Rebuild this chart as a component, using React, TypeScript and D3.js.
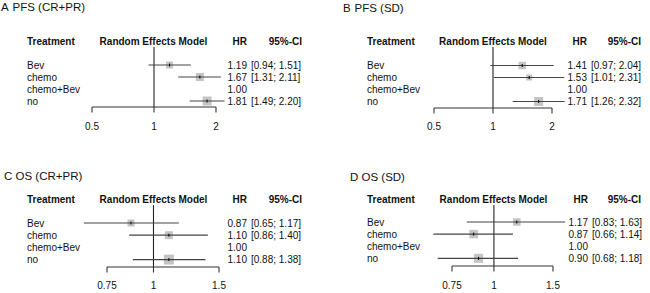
import React from "react";
import * as d3 from "d3";

// ---------- data ----------
const treatments = ["Bev", "chemo", "chemo+Bev", "no"];

const pfsCrHR = [1.19, 1.67, 1.0, 1.81];
const pfsCrLo = [0.94, 1.31, null, 1.49];
const pfsCrHi = [1.51, 2.11, null, 2.2];
const pfsCrWeight = [7, 8, 0, 9];

const pfsSdHR = [1.41, 1.53, 1.0, 1.71];
const pfsSdLo = [0.97, 1.01, null, 1.26];
const pfsSdHi = [2.04, 2.31, null, 2.32];
const pfsSdWeight = [7.5, 6, 0, 9];

const osCrHR = [0.87, 1.1, 1.0, 1.1];
const osCrLo = [0.65, 0.86, null, 0.88];
const osCrHi = [1.17, 1.4, null, 1.38];
const osCrWeight = [7, 8, 0, 10];

const osSdHR = [1.17, 0.87, 1.0, 0.9];
const osSdLo = [0.83, 0.66, null, 0.68];
const osSdHi = [1.63, 1.14, null, 1.18];
const osSdWeight = [7.5, 8.5, 0, 9];

const pfsTicks = [0.5, 1, 2];
const osTicks = [0.75, 1, 1.5];
const tickLabels = (t: number[]) => t.map((v) => String(v));

const headers = ["Treatment", "Random Effects Model", "HR", "95%-CI"];

// ---------- layout (positions only) ----------
type Layout = {
  letterX: number; titleY: number; treatX: number; headerY: number;
  row0: number; rowStep: number; axisY: number; axisL: number; axisR: number;
  reCenter: number; hrRight: number; ciLeft: number; ciHeadRight: number; tickLabelY: number;
};

const layoutA: Layout = { letterX: 1, titleY: 11, treatX: 27, headerY: 45, row0: 65, rowStep: 12, axisY: 107, axisL: 92, axisR: 216, reCenter: 153.5, hrRight: 247, ciLeft: 251, ciHeadRight: 302, tickLabelY: 130 };
const layoutB: Layout = { letterX: 343, titleY: 12, treatX: 367, headerY: 45, row0: 65.5, rowStep: 12, axisY: 108, axisL: 434, axisR: 552, reCenter: 493, hrRight: 587, ciLeft: 591, ciHeadRight: 641, tickLabelY: 130 };
const layoutC: Layout = { letterX: 4, titleY: 180, treatX: 27, headerY: 203, row0: 223, rowStep: 12.2, axisY: 267, axisL: 107, axisR: 219, reCenter: 153.5, hrRight: 247, ciLeft: 251, ciHeadRight: 302, tickLabelY: 289 };
const layoutD: Layout = { letterX: 350, titleY: 181, treatX: 367, headerY: 203, row0: 222, rowStep: 12.1, axisY: 266, axisL: 452, axisR: 553, reCenter: 493.5, hrRight: 588, ciLeft: 592, ciHeadRight: 641, tickLabelY: 289 };

const FONT = "'Liberation Sans', Arial, Helvetica, sans-serif";
const fmt = d3.format(".2f");

type PanelProps = {
  letter: string; title: string;
  hr: number[]; lo: (number | null)[]; hi: (number | null)[]; weight: number[];
  ticks: number[]; L: Layout;
};

function Panel({ letter, title, hr, lo, hi, weight, ticks, L }: PanelProps) {
  const x = d3.scaleLog().domain([ticks[0], ticks[ticks.length - 1]]).range([L.axisL, L.axisR]);
  const y = (i: number) => L.row0 + i * L.rowStep;
  const labels = tickLabels(ticks);
  const textCol = "#111";
  return (
    <g fontFamily={FONT} fill={textCol}>
      <text x={L.letterX} y={L.titleY} fontSize={11.5}>{letter}</text>
      <text x={L.letterX + 11.5} y={L.titleY} fontSize={11.5}>{title}</text>

      <g fontSize={10} fontWeight="bold">
        <text x={L.treatX} y={L.headerY}>{headers[0]}</text>
        <text x={L.reCenter} y={L.headerY} textAnchor="middle">{headers[1]}</text>
        <text x={L.hrRight} y={L.headerY} textAnchor="end">{headers[2]}</text>
        <text x={L.ciHeadRight} y={L.headerY} textAnchor="end">{headers[3]}</text>
      </g>

      {/* reference line */}
      <line x1={x(1)} x2={x(1)} y1={L.headerY + 2} y2={L.axisY} stroke="#222" strokeWidth={1.1} />

      {/* axis */}
      <g stroke="#333" strokeWidth={1.1} fill="none">
        <line x1={x(ticks[0])} x2={x(ticks[ticks.length - 1])} y1={L.axisY} y2={L.axisY} />
        {ticks.map((t) => (
          <line key={t} x1={x(t)} x2={x(t)} y1={L.axisY} y2={L.axisY + 5.5} />
        ))}
      </g>
      <g fontSize={10}>
        {ticks.map((t, i) => (
          <text key={t} x={x(t)} y={L.tickLabelY} textAnchor="middle">{labels[i]}</text>
        ))}
      </g>

      {treatments.map((name, i) => {
        const cy = y(i);
        const l = lo[i];
        const h = hi[i];
        const s = weight[i];
        return (
          <g key={name}>
            {s > 0 && (
              <rect x={x(hr[i]) - s / 2} y={cy - s / 2} width={s} height={s} fill="#c4c4c4" stroke="none" />
            )}
            {l !== null && h !== null && (
              <line x1={x(l)} x2={x(h)} y1={cy} y2={cy} stroke="#444" strokeWidth={1.2} />
            )}
            {l !== null && (
              <line x1={x(hr[i])} x2={x(hr[i])} y1={cy - 1.5} y2={cy + 1.5} stroke="#000" strokeWidth={1} />
            )}
            <text x={L.treatX} y={cy + 3.6} fontSize={10}>{name}</text>
            <text x={L.hrRight} y={cy + 3.6} fontSize={10} textAnchor="end">{fmt(hr[i])}</text>
            {l !== null && h !== null && (
              <text x={L.ciLeft} y={cy + 3.6} fontSize={10}>{`[${fmt(l)}; ${fmt(h)}]`}</text>
            )}
          </g>
        );
      })}
    </g>
  );
}

export default function App() {
  return (
    <svg width={650} height={293} style={{ position: "absolute", left: 0, top: 0, background: "#fff" }}>
      <rect width={650} height={293} fill="#fff" />
      <Panel letter="A" title="PFS (CR+PR)" hr={pfsCrHR} lo={pfsCrLo} hi={pfsCrHi} weight={pfsCrWeight} ticks={pfsTicks} L={layoutA} />
      <Panel letter="B" title="PFS (SD)" hr={pfsSdHR} lo={pfsSdLo} hi={pfsSdHi} weight={pfsSdWeight} ticks={pfsTicks} L={layoutB} />
      <Panel letter="C" title="OS (CR+PR)" hr={osCrHR} lo={osCrLo} hi={osCrHi} weight={osCrWeight} ticks={osTicks} L={layoutC} />
      <Panel letter="D" title="OS (SD)" hr={osSdHR} lo={osSdLo} hi={osSdHi} weight={osSdWeight} ticks={osTicks} L={layoutD} />
    </svg>
  );
}
